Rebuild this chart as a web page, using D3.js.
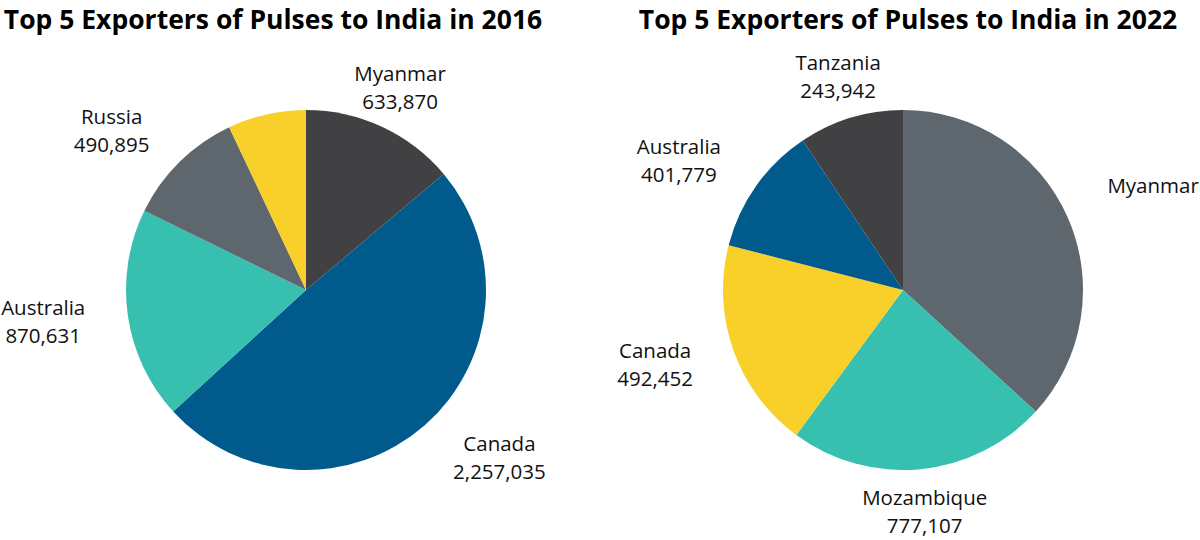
<!DOCTYPE html>
<html>
<head>
<meta charset="utf-8">
<script src="https://cdn.jsdelivr.net/npm/d3@7"></script>
<style>
  body { margin: 0; background: #fff; }
  svg { display: block; font-family: "Open Sans", sans-serif; }
</style>
</head>
<body>
<svg id="chart" width="1200" height="540"></svg>
<script>
// 2016 data (tonnes), the yellow slice has no label in the original
const names2016 = ["Myanmar", "Canada", "Australia", "Russia", ""];
const values2016 = [633870, 2257035, 870631, 490895, 321000];
const colors2016 = ["#414143", "#005a8b", "#37bfb0", "#5f676e", "#f9d02a"];

// 2022 data: slice shares (%) as drawn, and the quantities shown in the labels
const names2022 = ["Myanmar", "Mozambique", "Canada", "Australia", "Tanzania"];
const shares2022 = [36.8, 23.3, 18.9, 11.6, 9.4];
const quantities2022 = [null, 777107, 492452, 401779, 243942];
const colors2022 = ["#5f676e", "#37bfb0", "#f9d02a", "#005a8b", "#414143"];

const titles = ["Top 5 Exporters of Pulses to India in 2016", "Top 5 Exporters of Pulses to India in 2022"];

const fmt = d3.format(",");
const svg = d3.select("#chart");

const radius = 180;
const labelRadius = 223;

function drawPie(opts) {
    const g = svg.append("g")
        .attr("transform", `translate(${opts.cx},${opts.cy})`);

    const rows = opts.names.map((n, i) => ({
        name: n,
        value: opts.values[i],
        text: opts.texts[i],
        color: opts.colors[i]
    }));

    const pie = d3.pie().sort(null).value(d => d.value);
    const arc = d3.arc().innerRadius(0).outerRadius(radius);
    const arcs = pie(rows);

    g.selectAll("path.slice")
        .data(arcs)
        .enter().append("path")
        .attr("class", "slice")
        .attr("d", arc)
        .attr("fill", d => d.data.color);

    const labels = g.selectAll("text.label")
        .data(arcs.filter(d => d.data.name))
        .enter().append("text")
        .attr("class", "label")
        .attr("text-anchor", "middle")
        .attr("font-size", 20.5)
        .attr("fill", "#111");

    labels.append("tspan")
        .attr("x", 0)
        .attr("y", -7)
        .text(d => d.data.name);

    labels.append("tspan")
        .attr("x", 0)
        .attr("y", 21)
        .text(d => d.data.text);

    // anchor point on a circle outside the pie; side labels hang off it, top/bottom ones centre on it
    labels.attr("transform", function(d) {
        const a = (d.startAngle + d.endAngle) / 2;
        const s = Math.sin(a);
        const w = this.getBBox().width;
        let x = labelRadius * s;
        if (s > 0.5) x += w / 2;
        else if (s < -0.5) x -= w / 2;
        return `translate(${x},${-labelRadius * Math.cos(a)})`;
    });

    svg.append("text")
        .attr("x", opts.titleX)
        .attr("y", 29)
        .attr("text-anchor", "middle")
        .attr("font-size", 26.5)
        .attr("font-weight", "bold")
        .attr("fill", "#000")
        .text(opts.title);
}

drawPie({
    cx: 306, cy: 290,
    names: names2016,
    values: values2016,
    texts: values2016.map(v => fmt(v)),
    colors: colors2016,
    title: titles[0],
    titleX: 273
});

drawPie({
    cx: 903, cy: 290,
    names: names2022,
    values: shares2022,
    texts: quantities2022.map(v => v == null ? "" : fmt(v)),
    colors: colors2022,
    title: titles[1],
    titleX: 908
});
</script>
</body>
</html>
